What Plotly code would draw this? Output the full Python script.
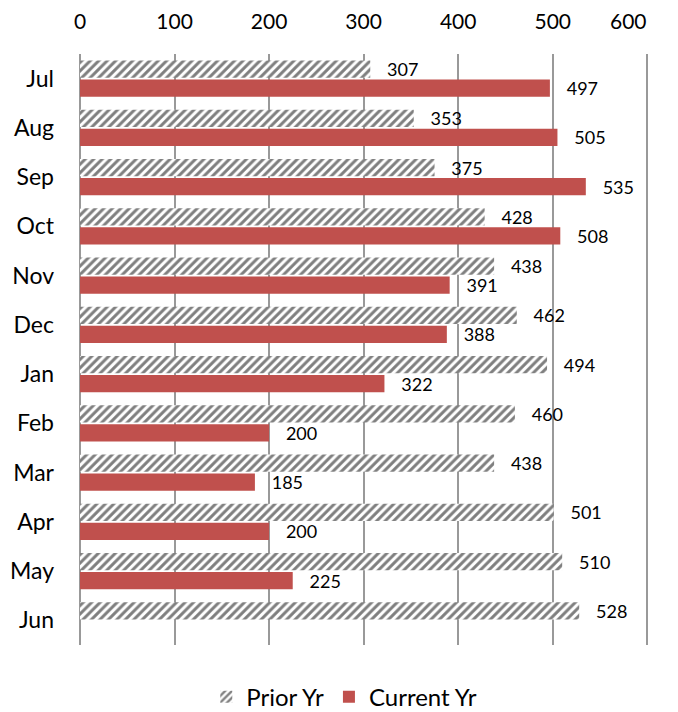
import plotly.graph_objects as go

months = ["Jul", "Aug", "Sep", "Oct", "Nov", "Dec", "Jan", "Feb", "Mar", "Apr", "May", "Jun"]
prior_yr = [307, 353, 375, 428, 438, 462, 494, 460, 438, 501, 510, 528]
current_yr = [497, 505, 535, 508, 391, 388, 322, 200, 185, 200, 225, None]
x_ticks = [0, 100, 200, 300, 400, 500, 600]

FONT = "Lato"
NB = "\u00a0"

fig = go.Figure()
fig.add_trace(go.Bar(
    name="Prior Yr", y=months, x=prior_yr, orientation="h",
    marker=dict(color="white", line=dict(width=0),
                pattern=dict(shape="/", fgcolor="black", bgcolor="white", size=6, solidity=0.5)),
    texttemplate=NB * 3 + "%{x}", textposition="outside", cliponaxis=False,
    constraintext="none",
    textfont=dict(size=18, color="#000000", family=FONT),
))
fig.add_trace(go.Bar(
    name="Current Yr", y=months, x=current_yr, orientation="h",
    marker=dict(color="#C0504D", line=dict(width=0)),
    texttemplate=NB * 3 + "%{x}", textposition="outside", cliponaxis=False,
    constraintext="none",
    textfont=dict(size=18, color="#000000", family=FONT),
))

# page body has an 8px default margin, so the figure is 8px smaller and margins shifted
fig.update_layout(
    width=670, height=704,
    margin=dict(l=72, r=26, t=46, b=67, autoexpand=False),
    paper_bgcolor="white", plot_bgcolor="white",
    barmode="group", bargap=0.22, bargroupgap=0.1,
    font=dict(family=FONT, color="#000000"),
    showlegend=True,
    legend=dict(orientation="h", x=0.462, xanchor="center", y=-0.05, yanchor="top",
                font=dict(size=24, family=FONT), traceorder="normal",
                itemwidth=30, itemsizing="constant"),
)

# last tick label is right-aligned to its gridline (as in the reference) so it stays on the page
last_tick = x_ticks[-1]
fig.update_xaxes(
    side="top", range=[0, 605], tickvals=x_ticks,
    ticktext=[str(t) if t != last_tick else "" for t in x_ticks],
    showgrid=True, gridcolor="#999999", gridwidth=2,
    zeroline=True, zerolinecolor="#999999", zerolinewidth=2,
    showline=False, ticks="", tickfont=dict(size=21, family=FONT),
    ticklabelstandoff=20, automargin=False,
)
fig.add_annotation(
    x=last_tick, xref="x", y=1, yref="paper", text=str(last_tick), showarrow=False,
    xanchor="right", yanchor="middle", yshift=34, xshift=2,
    font=dict(size=21, family=FONT, color="#000000"),
)
fig.update_yaxes(
    autorange="reversed", showgrid=False, zeroline=False, showline=False, ticks="",
    tickfont=dict(size=23, family=FONT), ticklabelstandoff=25, automargin=False,
)

fig.write_html("out.html")
